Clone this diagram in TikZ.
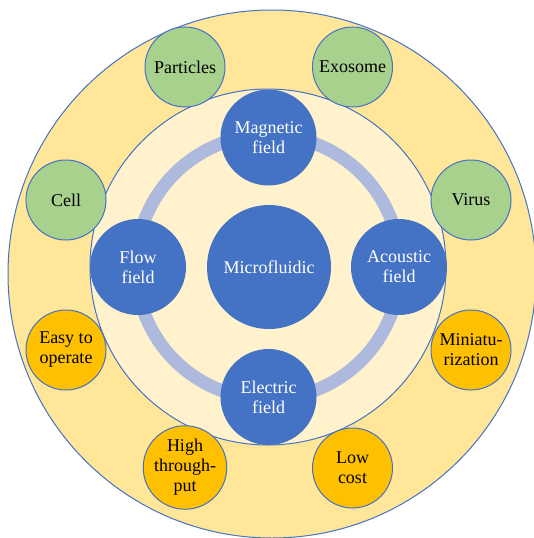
\documentclass[tikz,border=0pt]{standalone}
\usepackage{fontspec}
\setmainfont{Liberation Serif}
\definecolor{bluefill}{HTML}{4472C4}
\definecolor{ringblue}{HTML}{ADB9DD}
\definecolor{outerfill}{HTML}{FFE699}
\definecolor{innerfill}{HTML}{FFF2CC}
\definecolor{greenfill}{HTML}{A9D18E}
\definecolor{orangefill}{HTML}{FFC000}
\tikzset{
  bigcirc/.style={circle, fill=bluefill, draw=none, text=white, inner sep=0pt, align=center,
     font=\fontsize{18}{20}\selectfont},
  field/.style={bigcirc, minimum size=96pt},
  feat/.style={circle, draw=bluefill, line width=1pt, minimum size=80pt, inner sep=0pt, align=center,
     font=\fontsize{18}{20}\selectfont, text=black},
  green/.style={feat, fill=greenfill},
  orange/.style={feat, fill=orangefill},
}
\begin{document}
\begin{tikzpicture}[x=1pt,y=-1pt]
\useasboundingbox (0,0) rectangle (534,538);
\begin{scope}
\clip (0,0) rectangle (534,538);
\draw[bluefill, line width=1pt, fill=outerfill] (272,274) circle[radius=264];
\end{scope}
\draw[bluefill, line width=1pt, fill=innerfill] (268,267) circle[radius=178];
\draw[ringblue, line width=13pt] (268,267) circle[radius=132];
\node[bigcirc, minimum size=124pt] (micro) at (269,267) {Microfluidic};
\node[field] (mag) at (268.5,137.5) {Magnetic\\field};
\node[field] (flow) at (138,267) {Flow\\field};
\node[field] (acou) at (399,267) {Acoustic\\field};
\node[field] (elec) at (268.5,397) {Electric\\field};
\node[green] (part) at (185,67) {Particles};
\node[green] (exo) at (352.5,67) {Exosome};
\node[green] (cell) at (66,200) {Cell};
\node[green] (virus) at (471,200) {Virus};
\node[orange] (easy) at (66,350) {Easy to\\operate};
\node[orange] (mini) at (471,350) {Miniatu-\\rization};
\node[orange] (high) at (185,467.5) {High\\through-\\put};
\node[orange] (low) at (352.5,468) {Low\\cost};
\end{tikzpicture}
\end{document}
